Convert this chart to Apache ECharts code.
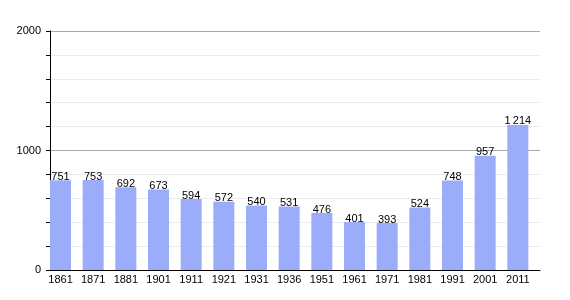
<!DOCTYPE html>
<html><head><meta charset="utf-8">
<script src="https://cdn.jsdelivr.net/npm/echarts@6/dist/echarts.min.js"></script>
<style>html,body{margin:0;padding:0;background:#fff}#c{width:570px;height:300px}</style>
</head><body><div id="c"></div>
<script>
const years = ['1861','1871','1881','1901','1911','1921','1931','1936','1951','1961','1971','1981','1991','2001','2011'];
const population = [751,753,692,673,594,572,540,531,476,401,393,524,748,957,1214];
const yTickLabels = [0,1000,2000];

const chart = echarts.init(document.getElementById('c'), null, {renderer:'canvas'});
const font = 'Liberation Sans, Arial, sans-serif';
chart.setOption({
  animation:false,
  grid:{left:50,right:30,top:31,bottom:30},
  xAxis:{type:'category',data:years,boundaryGap:true,
    axisLine:{lineStyle:{color:'#000',width:1}},axisTick:{show:false},
    axisLabel:{color:'#000',fontFamily:font,fontSize:11,margin:4,interval:0,padding:[0,11.6,0,0]},
    splitLine:{show:false}},
  yAxis:{type:'value',min:0,max:2000,interval:200,
    axisLine:{show:true,lineStyle:{color:'#000',width:1}},
    axisTick:{show:true,length:4,lineStyle:{color:'#000'}},
    axisLabel:{color:'#000',fontFamily:font,fontSize:11,margin:9,
      formatter:v=>yTickLabels.includes(v)?String(v):''},
    splitLine:{show:true,lineStyle:{color:['#aaaaaa','#ececec','#ececec','#ececec','#ececec'],width:1}}},
  series:[
    {type:'bar',data:population,barWidth:21,barGap:'0%',barCategoryGap:'0%',
     itemStyle:{color:'#9bacfa'},
     label:{show:true,position:'top',distance:-2,color:'#000',fontFamily:font,fontSize:11,
       formatter:p=>p.value>=1000?String(p.value).replace(/\B(?=(\d{3})+(?!\d))/g,'\u2009'):String(p.value)}},
    {type:'bar',data:years.map(()=>0),barWidth:11.67,barGap:'0%',itemStyle:{color:'transparent'}}
  ]
});
</script></body></html>
